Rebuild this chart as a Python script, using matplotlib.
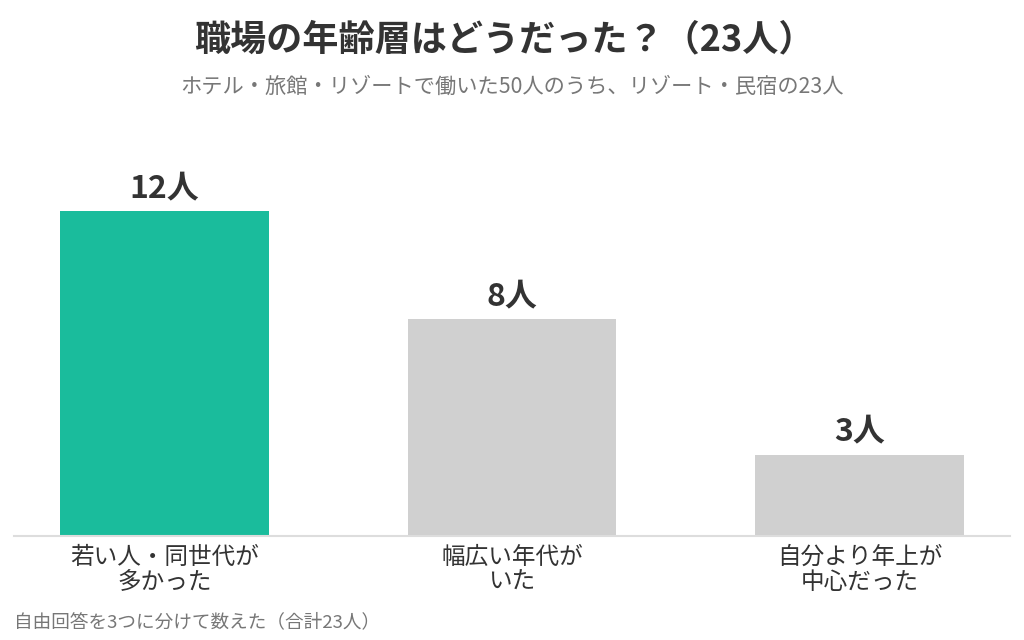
import numpy as np
import matplotlib.pyplot as plt

plt.rcParams['font.family'] = ['Noto Sans CJK JP', 'DejaVu Sans']

categories = ['若い人・同世代が\n多かった', '幅広い年代が\nいた', '自分より年上が\n中心だった']
counts = [12, 8, 3]
bar_colors = ['#1ABC9C', '#D0D0D0', '#D0D0D0']

title = '職場の年齢層はどうだった？（23人）'
subtitle = 'ホテル・旅館・リゾートで働いた50人のうち、リゾート・民宿の23人'
footnote = '自由回答を3つに分けて数えた（合計23人）'

fig = plt.figure(figsize=(10.24, 6.4), dpi=100)
ax = fig.add_axes([14 / 1024, 104 / 640, 996 / 1024, 396 / 640])

x = np.arange(len(categories))
bars = ax.bar(x, counts, width=0.6, color=bar_colors)

px_per_unit = 325 / 12
ax.set_ylim(0, 396 / px_per_unit)
ax.set_xlim(-0.433, len(categories) - 1 + 0.433)

for xi, c in zip(x, counts):
    ax.annotate(f'{c}人', (xi, c), xytext=(0, 5), textcoords='offset points',
                ha='center', va='bottom', fontsize=23, fontweight='bold', color='#333333')

ax.set_xticks(x)
ax.set_xticklabels(categories, fontsize=17, color='#333333', linespacing=1.1)
ax.tick_params(axis='x', length=0, pad=7)
ax.set_yticks([])
for s in ['top', 'left', 'right']:
    ax.spines[s].set_visible(False)
ax.spines['bottom'].set_color('#DDDDDD')
ax.spines['bottom'].set_linewidth(1.5)

fig.text(0.493, 1 - 40 / 640, title, ha='center', va='center', fontsize=26,
         fontweight='bold', color='#333333')
fig.text(0.5, 1 - 87 / 640, subtitle, ha='center', va='center', fontsize=15.3, color='#777777')
fig.text(14 / 1024, 1 - 622 / 640, footnote, ha='left', va='center', fontsize=13.4, color='#777777')

fig.savefig('out.png', dpi=100)
